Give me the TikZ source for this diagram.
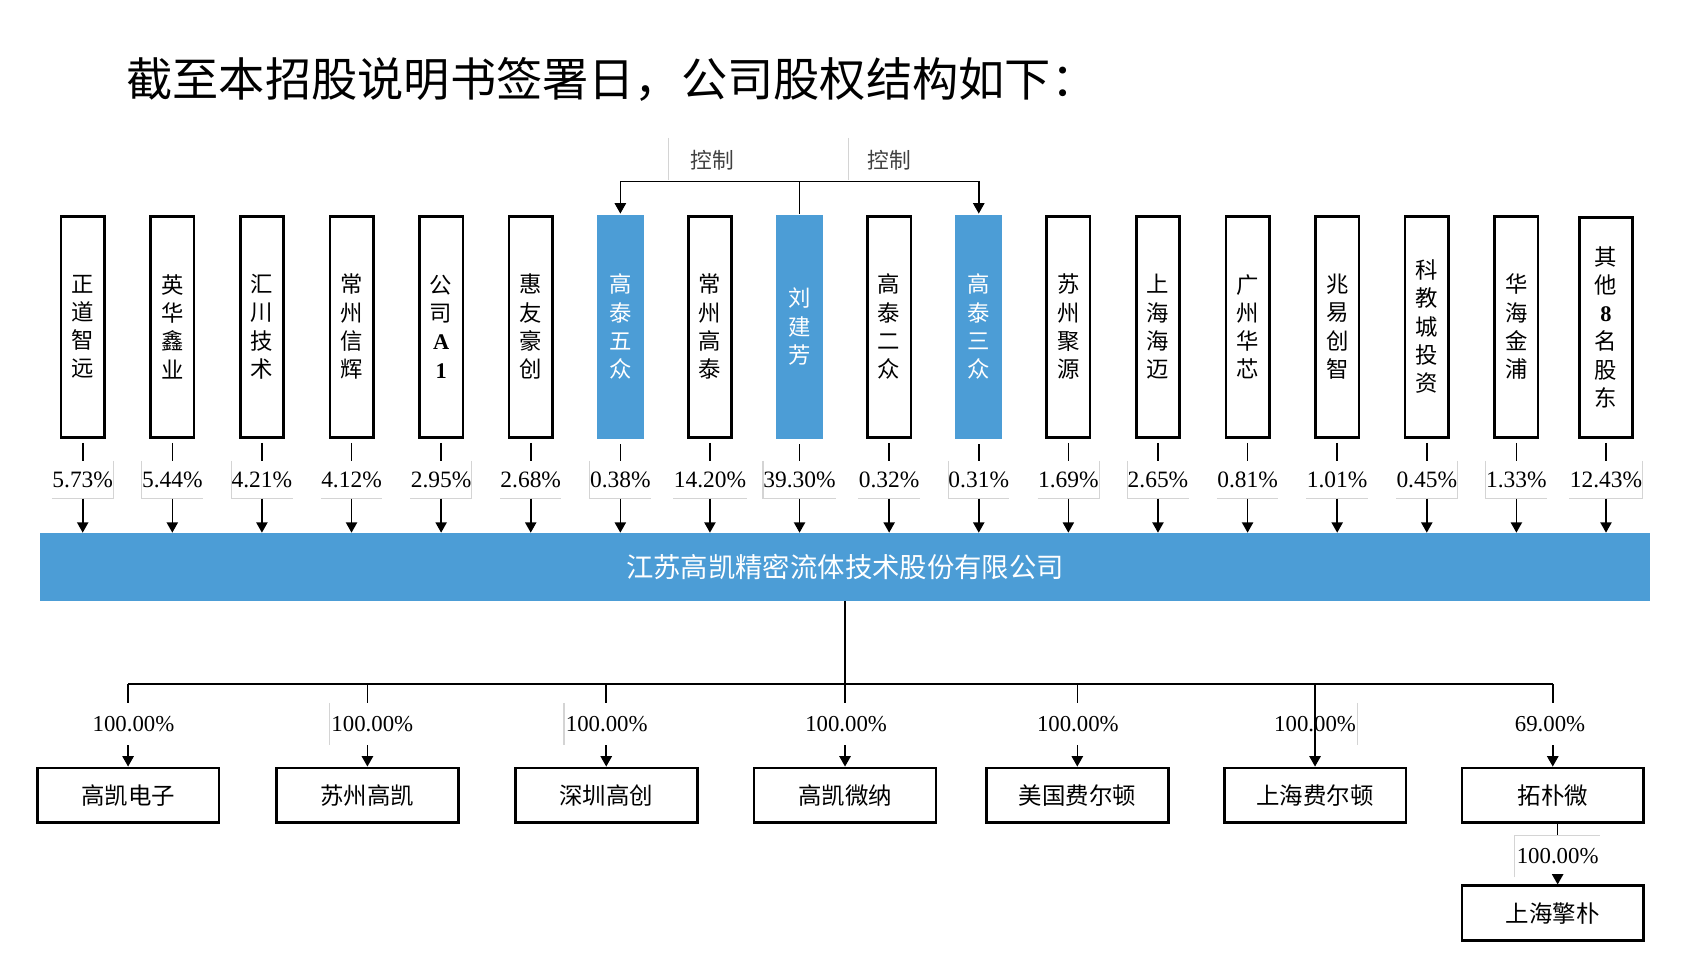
\documentclass[tikz,border=0pt]{standalone}
\usepackage{fontspec}
\setmainfont{Liberation Serif}
\newfontfamily\cjk{Noto Sans CJK SC}
\usetikzlibrary{arrows.meta}
\definecolor{gkblue}{HTML}{4C9DD6}
\begin{document}
\begin{tikzpicture}[x=0.5pt,y=-0.5pt,
  >={Triangle[length=4.8pt,width=5.2pt]},
  conn/.style={line width=0.75pt},
  arr/.style={conn,->},
  ghost/.style={draw=black!17,line width=0.5pt},
  holder/.style={draw=black,line width=1.2pt,minimum width=20pt,minimum height=101.8pt,inner sep=0pt,align=center,font=\cjk\fontsize{10.3}{13}\selectfont},
  holderblue/.style={holder,draw=none,fill=gkblue,text=white,minimum width=21.5pt,minimum height=103pt},
  pct/.style={inner sep=0pt,minimum width=25.5pt,minimum height=17pt,font=\fontsize{10.8}{12}\selectfont},
  pctb/.style={inner sep=0pt,minimum width=39pt,minimum height=19pt,font=\fontsize{10.5}{12}\selectfont},
  subco/.style={draw=black,line width=1.25pt,minimum width=83.75pt,minimum height=25.1pt,inner sep=0pt,font=\cjk\fontsize{10.8}{13}\selectfont},
  ctl/.style={font=\cjk\fontsize{10}{12}\selectfont,text=black!75,inner sep=0pt}]
\useasboundingbox (0,0) rectangle (1568,892);

% title
\node[anchor=west,inner sep=0pt,font=\cjk\fontsize{21.3}{25}\selectfont] (title) at (116,73.5) {截至本招股说明书签署日，公司股权结构如下：};

% shareholders
\node[holder]     (s1)  at (76.2,301)   {正\\道\\智\\远};
\node[holder]     (s2)  at (158.75,301) {英\\华\\鑫\\业};
\node[holder]     (s3)  at (241.3,301)  {汇\\川\\技\\术};
\node[holder]     (s4)  at (323.85,301) {常\\州\\信\\辉};
\node[holder]     (s5)  at (406.4,301)  {公\\司\\{\rmfamily\bfseries A}\\{\rmfamily\bfseries 1}};
\node[holder]     (s6)  at (488.95,301) {惠\\友\\豪\\创};
\node[holderblue] (s7)  at (571.5,301)  {高\\泰\\五\\众};
\node[holder]     (s8)  at (654.05,301) {常\\州\\高\\泰};
\node[holderblue] (s9)  at (736.6,301)  {刘\\建\\芳};
\node[holder]     (s10) at (819.15,301) {高\\泰\\二\\众};
\node[holderblue] (s11) at (901.7,301)  {高\\泰\\三\\众};
\node[holder]     (s12) at (984.25,301) {苏\\州\\聚\\源};
\node[holder]     (s13) at (1066.8,301) {上\\海\\海\\迈};
\node[holder]     (s14) at (1149.35,301) {广\\州\\华\\芯};
\node[holder]     (s15) at (1231.9,301) {兆\\易\\创\\智};
\node[holder]     (s16) at (1314.45,301) {科\\教\\城\\投\\资};
\node[holder]     (s17) at (1397,301)   {华\\海\\金\\浦};
\node[holder,minimum width=24.6pt,minimum height=101.3pt] (s18) at (1479.55,301.5) {其\\他\\{\rmfamily\bfseries 8}\\名\\股\\东};

% control
\node[ctl] (k1) at (656,147.5) {控制};
\node[ctl] (k2) at (819,147.5) {控制};
\draw[ghost] (616,127) -- (616,166);
\draw[ghost] (782,127) -- (782,166);
\coordinate (cm) at (736.6,167.3);
\draw[conn] (s9.north) -- (cm);
\draw[arr] (cm) -| (s7.north);
\draw[arr] (cm) -| (s11.north);

% percentages
\node[pct] (p1)  at (76.2,442)   {5.73\%};
\node[pct] (p2)  at (158.75,442) {5.44\%};
\node[pct] (p3)  at (241.3,442)  {4.21\%};
\node[pct] (p4)  at (323.85,442) {4.12\%};
\node[pct] (p5)  at (406.4,442)  {2.95\%};
\node[pct] (p6)  at (488.95,442) {2.68\%};
\node[pct] (p7)  at (571.5,442)  {0.38\%};
\node[pct] (p8)  at (654.05,442) {14.20\%};
\node[pct] (p9)  at (736.6,442)  {39.30\%};
\node[pct] (p10) at (819.15,442) {0.32\%};
\node[pct] (p11) at (901.7,442)  {0.31\%};
\node[pct] (p12) at (984.25,442) {1.69\%};
\node[pct] (p13) at (1066.8,442) {2.65\%};
\node[pct] (p14) at (1149.35,442) {0.81\%};
\node[pct] (p15) at (1231.9,442) {1.01\%};
\node[pct] (p16) at (1314.45,442) {0.45\%};
\node[pct] (p17) at (1397,442)   {1.33\%};
\node[pct] (p18) at (1479.55,442) {12.43\%};

% company bar
\node[fill=gkblue,minimum width=741.5pt,minimum height=31.05pt,inner sep=0pt,text=white,font=\cjk\fontsize{12.6}{14}\selectfont] (bar) at (778.5,522.2) {江苏高凯精密流体技术股份有限公司};

\foreach \i/\g in {1/r,2/l,3/l,4/n,5/r,6/n,7/l,8/n,9/l,10/n,11/l,12/r,13/l,14/n,15/n,16/r,17/l,18/r}{
  \draw[ghost] (p\i.south west) -- (p\i.south east);
  \if\g r \draw[ghost] (p\i.north east) -- (p\i.south east); \fi
  \if\g l \draw[ghost] (p\i.north west) -- (p\i.south west); \fi
  \draw[conn,shorten <=2pt] (s\i.south) -- (p\i.north);
  \draw[arr] (p\i.south) -- (p\i.south |- bar.north);
}

% subsidiaries
\node[subco] (c1) at (118,732.6)    {高凯电子};
\node[subco] (c2) at (338.5,732.6)  {苏州高凯};
\node[subco] (c3) at (558.5,732.6)  {深圳高创};
\node[subco] (c4) at (778.5,732.6)  {高凯微纳};
\node[subco] (c5) at (992.5,732.6)  {美国费尔顿};
\node[subco] (c6) at (1211.5,732.6) {上海费尔顿};
\node[subco] (c7) at (1430.5,732.6) {拓朴微};
\node[subco] (c8) at (1430.5,841.2) {上海擎朴};

\node[pctb] (q1) at (123,667)    {100.00\%};
\node[pctb] (q2) at (343,667)    {100.00\%};
\node[pctb] (q3) at (559,667)    {100.00\%};
\node[pctb] (q4) at (779.5,667)  {100.00\%};
\node[pctb] (q5) at (993,667)    {100.00\%};
\node[pctb] (q6) at (1211.5,667) {100.00\%};
\node[pctb] (q7) at (1428,667)   {69.00\%};
\node[pctb] (q8) at (1435,789)   {100.00\%};

\coordinate (hub) at (778.5,630.1);
\draw[conn] (bar.south -| hub) -- (hub);
\draw[conn] (c1.north |- hub) -- (c7.north |- hub);
\foreach \i in {1,2,3,4,5,7}{
  \draw[conn] (c\i.north |- hub) -- (c\i.north |- q\i.north);
  \draw[arr] (c\i.north |- q\i.south) -- (c\i.north);
}
\draw[arr] (c6.north |- hub) -- (c6.north);
\draw[conn] (c7.south -| q8) -- (q8.north);
\draw[arr] (q8.south) -- (q8.south |- c8.north);

\draw[ghost] (q2.north west) -- (q2.south west);
\draw[ghost] (q3.north west) -- (q3.south west);
\draw[ghost] (q6.north east) -- (q6.south east);
\draw[ghost] (q8.south west) -- (q8.north west) -- (q8.north east);
\end{tikzpicture}
\end{document}
